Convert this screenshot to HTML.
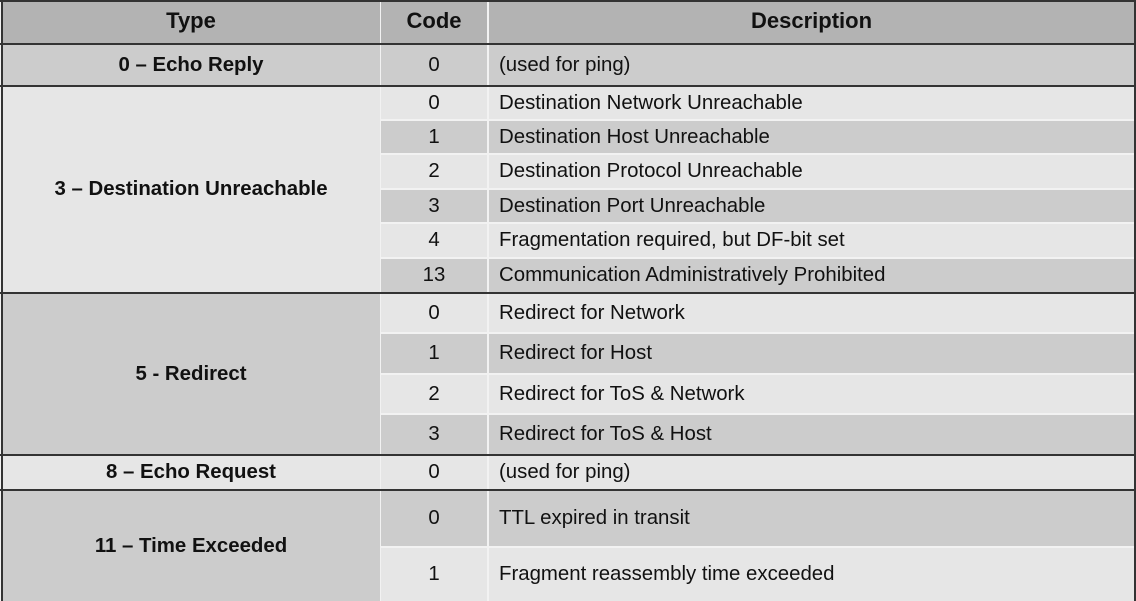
<!DOCTYPE html>
<html><head><meta charset="utf-8"><style>
body{margin:0;width:1136px;height:601px;overflow:hidden;background:#f2f2f2;position:relative;font-family:"Liberation Sans",sans-serif;color:#111}
.c{position:absolute;display:flex;align-items:center;font-size:20.4px;box-sizing:border-box}
.t{justify-content:center;font-weight:bold}
.k{justify-content:center}
.d{padding-left:10px}
.h{background:#b3b3b3;font-weight:bold;font-size:22px;justify-content:center;padding-bottom:3px}
.D{background:#cccccc}.L{background:#e6e6e6}
.ln{position:absolute;background:#333}
</style></head><body>
<div class="c h" style="left:2px;top:2px;width:378px;height:41px">Type</div>
<div class="c h" style="left:381px;top:2px;width:106px;height:41px">Code</div>
<div class="c h" style="left:489px;top:2px;width:645px;height:41px">Description</div>

<div class="c t D" style="left:2px;top:45px;width:378px;height:40px">0 – Echo Reply</div>
<div class="c k D" style="left:381px;top:45px;width:106px;height:40px">0</div>
<div class="c d D" style="left:489px;top:45px;width:645px;height:40px">(used for ping)</div>

<div class="c t L" style="left:2px;top:87px;width:378px;height:205px">3 – Destination Unreachable</div>
<div class="c k L" style="left:381px;top:87px;width:106px;height:32px">0</div><div class="c d L" style="left:489px;top:87px;width:645px;height:32px">Destination Network Unreachable</div>
<div class="c k D" style="left:381px;top:121px;width:106px;height:32px">1</div><div class="c d D" style="left:489px;top:121px;width:645px;height:32px">Destination Host Unreachable</div>
<div class="c k L" style="left:381px;top:155px;width:106px;height:33px">2</div><div class="c d L" style="left:489px;top:155px;width:645px;height:33px">Destination Protocol Unreachable</div>
<div class="c k D" style="left:381px;top:190px;width:106px;height:32px">3</div><div class="c d D" style="left:489px;top:190px;width:645px;height:32px">Destination Port Unreachable</div>
<div class="c k L" style="left:381px;top:224px;width:106px;height:33px">4</div><div class="c d L" style="left:489px;top:224px;width:645px;height:33px">Fragmentation required, but DF-bit set</div>
<div class="c k D" style="left:381px;top:259px;width:106px;height:33px">13</div><div class="c d D" style="left:489px;top:259px;width:645px;height:33px">Communication Administratively Prohibited</div>

<div class="c t D" style="left:2px;top:294px;width:378px;height:160px">5 - Redirect</div>
<div class="c k L" style="left:381px;top:294px;width:106px;height:38px">0</div><div class="c d L" style="left:489px;top:294px;width:645px;height:38px">Redirect for Network</div>
<div class="c k D" style="left:381px;top:334px;width:106px;height:39px">1</div><div class="c d D" style="left:489px;top:334px;width:645px;height:39px">Redirect for Host</div>
<div class="c k L" style="left:381px;top:375px;width:106px;height:38px">2</div><div class="c d L" style="left:489px;top:375px;width:645px;height:38px">Redirect for ToS &amp; Network</div>
<div class="c k D" style="left:381px;top:415px;width:106px;height:39px">3</div><div class="c d D" style="left:489px;top:415px;width:645px;height:39px">Redirect for ToS &amp; Host</div>

<div class="c t L" style="left:2px;top:456px;width:378px;height:33px">8 – Echo Request</div>
<div class="c k L" style="left:381px;top:456px;width:106px;height:33px">0</div>
<div class="c d L" style="left:489px;top:456px;width:645px;height:33px">(used for ping)</div>

<div class="c t D" style="left:2px;top:491px;width:378px;height:110px">11 – Time Exceeded</div>
<div class="c k D" style="left:381px;top:491px;width:106px;height:55px">0</div><div class="c d D" style="left:489px;top:491px;width:645px;height:55px">TTL expired in transit</div>
<div class="c k L" style="left:381px;top:548px;width:106px;height:53px">1</div><div class="c d L" style="left:489px;top:548px;width:645px;height:53px">Fragment reassembly time exceeded</div>

<div class="ln" style="left:0;top:0;width:1136px;height:2px"></div>
<div class="ln" style="left:0;top:43px;width:1136px;height:2px"></div>
<div class="ln" style="left:0;top:85px;width:1136px;height:2px"></div>
<div class="ln" style="left:0;top:292px;width:1136px;height:2px"></div>
<div class="ln" style="left:0;top:454px;width:1136px;height:2px"></div>
<div class="ln" style="left:0;top:489px;width:1136px;height:2px"></div>
<div class="ln" style="left:1px;top:0;width:2px;height:601px"></div>
<div class="ln" style="left:1134px;top:0;width:2px;height:601px"></div>
</body></html>
